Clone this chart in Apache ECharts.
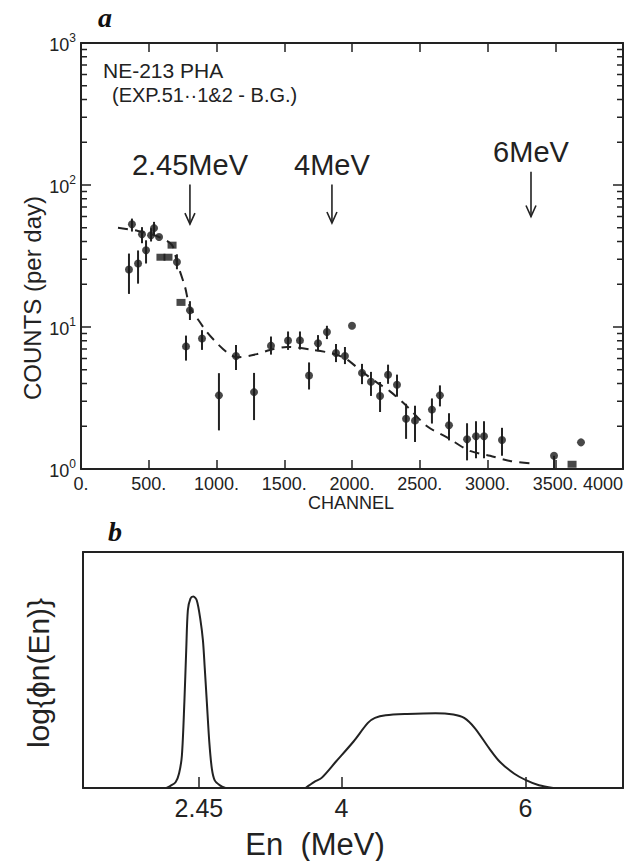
<!DOCTYPE html>
<html>
<head>
<meta charset="utf-8">
<script src="https://cdn.jsdelivr.net/npm/echarts@6/dist/echarts.min.js"></script>
<style>
html,body{margin:0;padding:0;background:#fff;}
#chart{width:639px;height:861px;}
</style>
</head>
<body>
<div id="chart"></div>
<script>
// ---------- Panel a: NE-213 pulse-height spectrum ----------
const circleChannel = [354, 376, 421, 450, 480, 517, 539, 576, 708, 775, 804, 893, 1018, 1144, 1277, 1402, 1528, 1616, 1683, 1749, 1815, 1882, 1948, 2000, 2074, 2140, 2207, 2266, 2332, 2399, 2465, 2590, 2649, 2716, 2849, 2915, 2974, 3107, 3491, 3690];
const circleCounts  = [25.4, 52.9, 28, 45, 34.7, 44.3, 49.7, 43, 28.7, 7.3, 13.1, 8.3, 3.3, 6.24, 3.48, 7.39, 8.04, 8.05, 4.56, 7.69, 9.22, 6.56, 6.24, 10.2, 4.75, 4.11, 3.27, 4.61, 3.92, 2.26, 2.19, 2.62, 3.3, 2.03, 1.62, 1.7, 1.7, 1.6, 1.24, 1.54];
const errLow        = [17.1, 47, 20.2, 38.9, 28, 40, 44, null, 25.5, 5.8, 11.2, 6.9, 1.87, 4.98, 2.21, 6.39, 6.9, 6.94, 3.63, 6.75, 8.22, 5.66, 5.48, null, 3.96, 3.27, 2.52, 3.98, 3.23, 1.63, 1.55, 2.09, 2.76, 1.59, 1.15, 1.19, 1.19, 1.24, 1.0, null];
const errHigh       = [32.9, 58, 34.6, 50.5, 40.8, 49.6, 55, null, 32.5, 8.7, 15.2, 9.5, 4.73, 7.47, 4.75, 8.57, 9.3, 9.3, 5.63, 8.77, 10.2, 7.59, 7.23, null, 5.5, 4.83, 4.1, 5.43, 4.62, 2.88, 2.79, 3.14, 3.88, 2.47, 2.1, 2.17, 2.17, 1.95, 1.24, null];
const squareChannel = [590, 642, 672, 738, 3624];
const squareCounts  = [31, 31, 37.7, 14.9, 1.08];
const curveChannel  = [273, 420, 576, 672, 708, 768, 804, 878, 930, 1004, 1077, 1151, 1299, 1395, 1520, 1712, 1860, 1963, 2074, 2185, 2281, 2406, 2554, 2701, 2871, 3019, 3166, 3336];
const curveCounts   = [50, 47.5, 43, 37.7, 28.6, 19.1, 13.8, 10.8, 9.18, 7.69, 6.64, 6.12, 6.44, 6.89, 7.24, 6.9, 6.49, 5.9, 4.85, 4.06, 3.52, 2.76, 2.0, 1.67, 1.34, 1.24, 1.14, 1.09];
const arrowChannel  = [804, 1852, 3321];
const arrowTop      = [101, 101, 124];
const arrowBottom   = [53, 54, 60];
const arrowLabels   = ['2.45MeV', '4MeV', '6MeV'];
const minorTickValues = [2,3,4,5,6,7,8,9,20,30,40,50,60,70,80,90,200,300,400,500,600,700,800,900];
const channelTicks  = [0, 500, 1000, 1500, 2000, 2500, 3000, 3500, 4000];
const channelTickLabels = ['0.', '500.', '1000.', '1500.', '2000.', '2500.', '3000.', '3500.', '4000'];
const decadeLabels  = {1: '0', 10: '1', 100: '2', 1000: '3'};

// ---------- Panel b: neutron energy spectrum ----------
const peakEnergy    = [2.098, 2.137, 2.196, 2.234, 2.265, 2.292, 2.312, 2.330, 2.358, 2.389, 2.427, 2.466, 2.494, 2.513, 2.536, 2.563, 2.591, 2.622, 2.679, 2.738];
const peakFlux      = [0, 0.01, 0.03, 0.076, 0.17, 0.45, 0.72, 0.93, 0.99, 1, 0.98, 0.88, 0.77, 0.63, 0.45, 0.24, 0.10, 0.04, 0.014, 0];
const plateauEnergy = [3.609, 3.705, 3.784, 3.938, 4.131, 4.287, 4.364, 4.480, 4.713, 5.023, 5.216, 5.333, 5.449, 5.604, 5.721, 5.875, 6.011, 6.147, 6.301];
const plateauFlux   = [0, 0.032, 0.053, 0.137, 0.243, 0.34, 0.366, 0.38, 0.387, 0.391, 0.384, 0.366, 0.313, 0.208, 0.137, 0.076, 0.04, 0.014, 0];
const energyTicks   = [2.45, 4, 6];

// ---------- build ----------
const INK = '#222';
const FONT = 'Liberation Sans';
const zip = (a, b) => a.map((v, i) => [v, b[i]]);

const errData = [];
circleChannel.forEach((c, i) => { if (errLow[i] != null) errData.push([c, errLow[i], errHigh[i]]); });

const chart = echarts.init(document.getElementById('chart'), null, {renderer: 'svg'});

const axisLineStyle = {show: true, onZero: false, lineStyle: {color: INK, width: 2}};

const option = {
  animation: false,
  backgroundColor: '#fff',
  textStyle: {fontFamily: FONT, color: INK},
  grid: [
    {left: 81, right: 16, top: 43, bottom: 392, outerBoundsMode: 'none', containLabel: false},
    {left: 83, right: 16, top: 552, bottom: 73, outerBoundsMode: 'none', containLabel: false}
  ],
  xAxis: [
    {type: 'value', gridIndex: 0, min: 0, max: 4000, interval: 500, position: 'bottom',
     axisLine: axisLineStyle, splitLine: {show: false},
     axisTick: {show: true, inside: true, length: 9, lineStyle: {color: INK, width: 1.5}},
     axisLabel: {show: true, margin: 6, fontSize: 18, color: INK, fontFamily: FONT, alignMaxLabel: 'right',
       formatter: v => channelTickLabels[channelTicks.indexOf(v)]}},
    {type: 'value', gridIndex: 0, min: 0, max: 4000, interval: 500, position: 'top',
     axisLine: axisLineStyle, splitLine: {show: false},
     axisTick: {show: true, inside: true, length: 9, lineStyle: {color: INK, width: 1.5}},
     axisLabel: {show: false}},
    {type: 'value', gridIndex: 1, min: 1.19, max: 7.06, position: 'bottom',
     axisLine: axisLineStyle, splitLine: {show: false},
     axisTick: {show: true, inside: true, length: 11, customValues: energyTicks, lineStyle: {color: INK, width: 1.5}},
     axisLabel: {show: true, margin: 7, fontSize: 25, color: INK, fontFamily: FONT, customValues: energyTicks,
       formatter: v => String(v)}},
    {type: 'value', gridIndex: 1, min: 1.19, max: 7.06, position: 'top',
     axisLine: axisLineStyle, splitLine: {show: false}, axisTick: {show: false}, axisLabel: {show: false}}
  ],
  yAxis: [
    {type: 'log', logBase: 10, gridIndex: 0, min: 1, max: 1000, position: 'left',
     axisLine: axisLineStyle, splitLine: {show: false}, minorTick: {show: false},
     axisTick: {show: true, inside: true, length: 10, lineStyle: {color: INK, width: 1.5}},
     axisLabel: {show: true, margin: 5, color: INK, fontFamily: FONT,
       formatter: v => '{b|10}{s|' + decadeLabels[Math.round(v)] + '}',
       rich: {b: {fontSize: 18, fontFamily: FONT, color: INK, lineHeight: 22, verticalAlign: 'bottom'},
              s: {fontSize: 12, fontFamily: FONT, color: INK, lineHeight: 22, verticalAlign: 'top', padding: [0, 0, 8, 0]}}}},
    {type: 'log', logBase: 10, gridIndex: 0, min: 1, max: 1000, position: 'right',
     axisLine: axisLineStyle, splitLine: {show: false},
     axisTick: {show: true, inside: true, length: 10, lineStyle: {color: INK, width: 1.5}},
     axisLabel: {show: false}},
    {type: 'value', gridIndex: 1, min: 0, max: 1.233, position: 'left',
     axisLine: axisLineStyle, splitLine: {show: false}, axisTick: {show: false}, axisLabel: {show: false}},
    {type: 'value', gridIndex: 1, min: 0, max: 1.233, position: 'right',
     axisLine: axisLineStyle, splitLine: {show: false}, axisTick: {show: false}, axisLabel: {show: false}}
  ],
  series: [
    // minor log ticks on left & right axes
    {type: 'custom', xAxisIndex: 0, yAxisIndex: 0, silent: true, clip: false,
     data: minorTickValues.map(v => [v]),
     renderItem: (params, api) => {
       const v = api.value(0);
       const pl = api.coord([0, v]);
       const pr = api.coord([4000, v]);
       return {type: 'group', children: [
         {type: 'line', shape: {x1: pl[0], y1: pl[1], x2: pl[0] + 6, y2: pl[1]}, style: {stroke: INK, lineWidth: 1.5}},
         {type: 'line', shape: {x1: pr[0] - 6, y1: pr[1], x2: pr[0], y2: pr[1]}, style: {stroke: INK, lineWidth: 1.5}}
       ]};
     }},
    // fitted dashed curve
    {type: 'line', xAxisIndex: 0, yAxisIndex: 0, data: zip(curveChannel, curveCounts),
     smooth: 0.3, showSymbol: false, symbol: 'none', silent: true,
     lineStyle: {color: INK, width: 2, type: [10, 7]}},
    // error bars
    {type: 'custom', xAxisIndex: 0, yAxisIndex: 0, silent: true, data: errData,
     encode: {x: 0, y: [1, 2]},
     renderItem: (params, api) => {
       const p1 = api.coord([api.value(0), api.value(1)]);
       const p2 = api.coord([api.value(0), api.value(2)]);
       return {type: 'line', shape: {x1: p1[0], y1: p1[1], x2: p2[0], y2: p2[1]}, style: {stroke: INK, lineWidth: 2}};
     }},
    // data points
    {type: 'scatter', xAxisIndex: 0, yAxisIndex: 0, data: zip(circleChannel, circleCounts),
     symbol: 'circle', symbolSize: 8, itemStyle: {color: '#1a1a1a'}, silent: true},
    {type: 'scatter', xAxisIndex: 0, yAxisIndex: 0, data: zip(squareChannel, squareCounts),
     symbol: 'rect', symbolSize: [9, 7], itemStyle: {color: '#1a1a1a'}, silent: true},
    // energy arrows with labels
    {type: 'custom', xAxisIndex: 0, yAxisIndex: 0, silent: true, clip: false,
     data: arrowChannel.map((c, i) => [c, arrowTop[i], arrowBottom[i], i]),
     encode: {x: 0, y: [1, 2]},
     renderItem: (params, api) => {
       const top = api.coord([api.value(0), api.value(1)]);
       const bot = api.coord([api.value(0), api.value(2)]);
       const x = top[0];
       return {type: 'group', children: [
         {type: 'line', shape: {x1: x, y1: top[1], x2: x, y2: bot[1]}, style: {stroke: INK, lineWidth: 1.6}},
         {type: 'polyline', shape: {points: [[x - 5, bot[1] - 11], [x, bot[1]], [x + 5, bot[1] - 11]]},
          style: {stroke: INK, lineWidth: 1.6, fill: null}},
         {type: 'text', x: x, y: top[1] - 5,
          style: {text: arrowLabels[api.value(3)], fontFamily: FONT, fontSize: 29, fill: INK,
                  align: 'center', verticalAlign: 'bottom'}}
       ]};
     }},
    // panel b curves
    {type: 'line', xAxisIndex: 2, yAxisIndex: 2, data: zip(peakEnergy, peakFlux),
     smooth: 0.3, showSymbol: false, symbol: 'none', silent: true,
     lineStyle: {color: INK, width: 2}},
    {type: 'line', xAxisIndex: 2, yAxisIndex: 2, data: zip(plateauEnergy, plateauFlux),
     smooth: 0.3, showSymbol: false, symbol: 'none', silent: true,
     lineStyle: {color: INK, width: 2}}
  ],
  graphic: [
    {type: 'text', x: 105, y: 17, style: {text: 'a', font: 'italic bold 28px "Liberation Serif"', fill: '#111', align: 'center', verticalAlign: 'middle'}},
    {type: 'text', x: 103, y: 70, style: {text: 'NE-213 PHA', font: '21px "Liberation Sans"', fill: INK, align: 'left', verticalAlign: 'middle'}},
    {type: 'text', x: 112, y: 95, style: {text: '(EXP.51··1&2 - B.G.)', font: '20px "Liberation Sans"', fill: INK, align: 'left', verticalAlign: 'middle'}},
    {type: 'text', x: 32, y: 298, rotation: Math.PI / 2, style: {text: 'COUNTS (per day)', font: '24px "Liberation Sans"', fill: INK, align: 'center', verticalAlign: 'middle'}},
    {type: 'text', x: 351, y: 503, style: {text: 'CHANNEL', font: '18px "Liberation Sans"', fill: INK, align: 'center', verticalAlign: 'middle'}},
    {type: 'text', x: 115, y: 531, style: {text: 'b', font: 'italic bold 28px "Liberation Serif"', fill: '#111', align: 'center', verticalAlign: 'middle'}},
    {type: 'text', x: 38, y: 673, rotation: Math.PI / 2, style: {text: 'log{ϕn(En)}', font: '30px "Liberation Sans"', fill: INK, align: 'center', verticalAlign: 'middle'}},
    {type: 'text', x: 315, y: 844, style: {text: 'En  (MeV)', font: '31px "Liberation Sans"', fill: INK, align: 'center', verticalAlign: 'middle'}}
  ]
};
chart.setOption(option);
</script>
</body>
</html>
